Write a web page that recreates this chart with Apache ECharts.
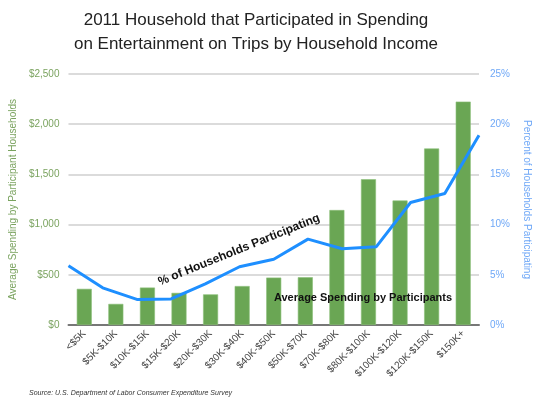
<!DOCTYPE html>
<html>
<head>
<meta charset="utf-8">
<script src="https://cdn.jsdelivr.net/npm/echarts@6/dist/echarts.min.js"></script>
<style>
  html, body { margin: 0; padding: 0; background: #fff; }
  #chart { width: 540px; height: 399px; }
</style>
</head>
<body>
<div id="chart"></div>
<script>
// Income brackets
const incomeBrackets = ['<$5K', '$5K-$10K', '$10K-$15K', '$15K-$20K', '$20K-$30K', '$30K-$40K',
  '$40K-$50K', '$50K-$70K', '$70K-$80K', '$80K-$100K', '$100K-$120K', '$120K-$150K', '$150K+'];

// Average spending by participant households ($)
const avgSpending = [360, 210, 373, 320, 305, 388, 472, 476, 1145, 1452, 1240, 1758, 2225];

// Percent of households participating (%)
const pctParticipating = [5.9, 3.7, 2.55, 2.6, 4.1, 5.8, 6.55, 8.55, 7.6, 7.8, 12.2, 13.1, 18.9];

const font = 'Liberation Sans, Arial, sans-serif';

const myChart = echarts.init(document.getElementById('chart'));

const option = {
  animation: false,
  title: {
    text: '2011 Household that Participated in Spending\non Entertainment on Trips by Household Income',
    left: 251,
    textAlign: 'center',
    top: 3,
    textStyle: {
      fontFamily: font,
      fontSize: 17,
      fontWeight: 'normal',
      color: '#222',
      lineHeight: 24,
    },
  },
  grid: { left: 62, right: 58, top: 74, bottom: 74 },
  xAxis: [
    {
      type: 'category',
      data: incomeBrackets,
      boundaryGap: true,
      axisLine: { lineStyle: { color: '#777', width: 2 } },
      axisTick: { show: false },
      axisLabel: {
        rotate: 45,
        interval: 0,
        margin: 7,
        fontFamily: font,
        fontSize: 10,
        color: '#444',
      },
    },
    {
      type: 'category',
      data: incomeBrackets,
      boundaryGap: false,
      show: false,
    },
  ],
  yAxis: [
    {
      type: 'value',
      min: 0,
      max: 2500,
      interval: 500,
      name: 'Average Spending by Participant Households',
      nameLocation: 'middle',
      nameGap: 48,
      nameTextStyle: { fontFamily: font, fontSize: 10, color: '#7aa35f' },
      axisLine: { show: false },
      axisTick: { show: false },
      axisLabel: {
        margin: 9,
        fontFamily: font,
        fontSize: 10,
        color: '#7aa35f',
        formatter: (v) => '$' + v.toLocaleString('en-US'),
      },
      splitLine: { lineStyle: { color: '#cfcfcf', width: 1.5 } },
    },
    {
      type: 'value',
      min: 0,
      max: 25,
      interval: 5,
      position: 'right',
      name: 'Percent of Households Participating',
      nameLocation: 'middle',
      nameGap: 43,
      nameRotate: -90,
      nameTextStyle: { fontFamily: font, fontSize: 10, color: '#6fa8f7' },
      axisLine: { show: false },
      axisTick: { show: false },
      axisLabel: {
        margin: 11,
        fontFamily: font,
        fontSize: 10,
        color: '#6fa8f7',
        formatter: '{value}%',
      },
      splitLine: { show: false },
    },
  ],
  series: [
    {
      name: 'Average Spending by Participants',
      type: 'bar',
      data: avgSpending,
      xAxisIndex: 0,
      yAxisIndex: 0,
      barWidth: 15,
      itemStyle: { color: '#6aa654', borderColor: '#8cbf78', borderWidth: 0.6 },
    },
    {
      name: '% of Households Participating',
      type: 'line',
      data: pctParticipating,
      xAxisIndex: 1,
      yAxisIndex: 1,
      showSymbol: false,
      lineStyle: { color: '#1e8fff', width: 3 },
      z: 5,
    },
  ],
  graphic: [
    {
      type: 'text',
      x: 239,
      y: 250,
      rotation: 22 * Math.PI / 180,
      style: {
        text: '% of Households Participating',
        fontFamily: font,
        fontSize: 12,
        fontWeight: 'bold',
        fill: '#111',
        align: 'center',
        verticalAlign: 'middle',
      },
      z: 10,
    },
    {
      type: 'text',
      x: 363,
      y: 298,
      style: {
        text: 'Average Spending by Participants',
        fontFamily: font,
        fontSize: 11,
        fontWeight: 'bold',
        fill: '#111',
        align: 'center',
        verticalAlign: 'middle',
      },
      z: 10,
    },
    {
      type: 'text',
      x: 29,
      y: 393,
      style: {
        text: 'Source: U.S. Department of Labor Consumer Expenditure Survey',
        fontFamily: font,
        fontSize: 7,
        fontStyle: 'italic',
        fill: '#333',
        verticalAlign: 'middle',
      },
    },
  ],
};

myChart.setOption(option);

window.addEventListener('resize', () => {
  myChart.resize();
});
</script>
</body>
</html>
